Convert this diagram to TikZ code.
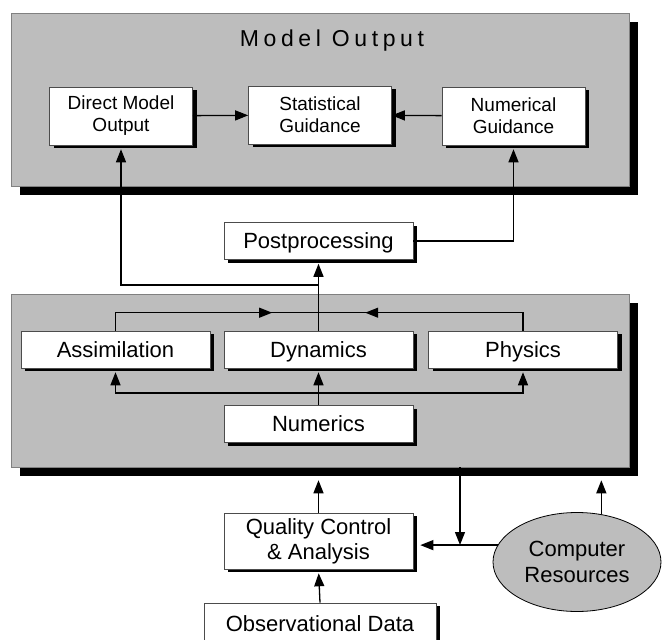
\documentclass[tikz,border=0pt]{standalone}
\usepackage{fontspec}
\setmainfont{Liberation Sans}
\usetikzlibrary{shadows}
\usetikzlibrary{arrows.meta}
\usetikzlibrary{decorations.markings}
\usetikzlibrary{calc,positioning}
\usetikzlibrary{shapes.geometric}

\begin{document}
\begin{tikzpicture}[>={Stealth[length=13pt, width=10pt, inset=0pt]}, x=1pt, y=-1pt, line width=1.3pt,
    panel/.style={draw=black!50, line width=0.6pt, fill=black!26, inner sep=0pt,
        drop shadow={shadow xshift=9pt, shadow yshift=-9pt, fill=black, opacity=1}},
    plainbox/.style={draw=black!70, line width=0.6pt, fill=white, inner sep=0pt, align=center,
        minimum width=189pt, minimum height=37pt, font=\fontsize{22}{25}\selectfont,
        drop shadow={shadow xshift=4pt, shadow yshift=-3pt, fill=black, opacity=1}},
    box/.style={plainbox, text height=17pt, text depth=2pt},
    outbox/.style={plainbox, minimum width=143pt, minimum height=58pt, font=\fontsize{19}{22}\selectfont},
    into/.style={->, shorten >=4pt},
    midarrow/.style={postaction={decorate}, decoration={markings, mark=at position #1 with {\arrow{>}}}}]

    \useasboundingbox (0,0) rectangle (662,640);

    \node[panel, minimum width=618pt, minimum height=173pt] (outpanel) at (320,99.5) {};
    \node[anchor=base, font=\fontsize{23}{26}\selectfont\addfontfeatures{LetterSpace=20}] (title) at (332,46.7) {Model Output};
    \node[outbox] (dmo) at (121,116) {Direct Model\\Output};
    \node[outbox] (sg) at (320,115) {Statistical\\Guidance};
    \node[outbox] (ng) at (513.5,116) {Numerical\\Guidance};

    \node[box] (post) at (318.5,241) {Postprocessing};

    \node[panel, minimum width=618pt, minimum height=173pt] (modpanel) at (320,380.5) {};
    \node[box] (assim) at (115.5,349.5) {Assimilation};
    \node[box] (dyn) at (318.5,349.5) {Dynamics};
    \node[box] (phys) at (523,349.5) {Physics};
    \node[box] (num) at (318.5,424) {Numerics};

    \node[plainbox, minimum height=56pt] (qc) at (318.5,541) {Quality Control\\\& Analysis};
    \node[draw, ellipse, fill=black!26, line width=0.8pt, inner sep=0pt, minimum width=168pt, minimum height=99pt,
        align=center, font=\fontsize{22}{26}\selectfont] (cpu) at (577,562) {Computer\\Resources};
    \node[box, minimum width=232pt, minimum height=42pt] (obs) at (320,624) {Observational Data};

    \draw[->] (dmo) -- (sg);
    \draw[->] (ng) -- (sg);

    \coordinate (tap) at (318.5,285);
    \coordinate (fb) at (318.5,312.7);
    \coordinate (ns) at (318.5,393);
    \draw[into] (post.east) -| (ng.south);
    \draw[into] (dyn.north) -- (post.south);
    \draw[into] (tap) -| (dmo.south);
    \draw[midarrow=0.79] (assim.north) |- (fb);
    \draw[midarrow=0.79] (phys.north) |- (fb);

    \draw[into] (num.north) -- (dyn.south);
    \draw[into] (ns) -| (assim.south);
    \draw[into] (ns) -| (phys.south);

    \coordinate (join) at (460,545);
    \draw[->, shorten >=13pt] (qc.north) -- (qc.north |- modpanel.south);
    \draw[->, shorten >=13pt] (cpu.63) -- (cpu.63 |- modpanel.south);
    \draw[->] (join |- modpanel.south) -- (join);
    \draw[->, shorten >=7pt] (cpu.168) -- (cpu.168 -| qc.east);
    \draw[into] (obs.north) -- (qc.south);

\end{tikzpicture}
\end{document}
